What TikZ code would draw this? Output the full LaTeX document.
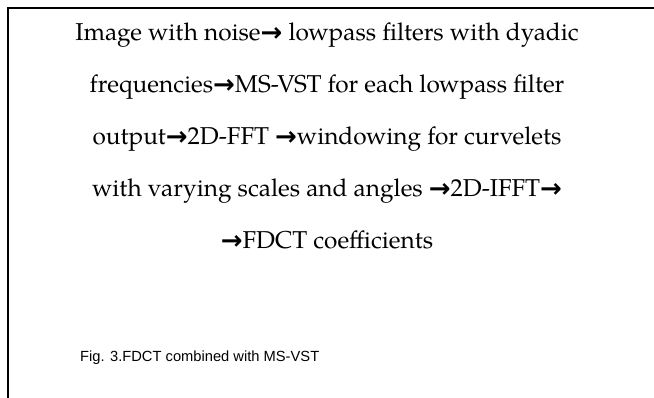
\documentclass[tikz,border=0pt]{standalone}
\usepackage{fontspec}
\setmainfont{TeX Gyre Pagella}
\newfontfamily\capfont{Liberation Sans}
\newfontfamily\arrfont{DejaVu Sans}
\newcommand{\arr}{{\arrfont\bfseries\fontsize{26}{28}\selectfont\raisebox{-0.5pt}{→}}}
\begin{document}
\begin{tikzpicture}[x=1pt,y=-1pt,
  frameline/.style={line width=2pt,black},
  bodytext/.style={anchor=base,inner sep=0pt,font=\fontsize{24.4}{28}\selectfont},
  captext/.style={anchor=base west,inner sep=0pt,font=\capfont\fontsize{14.7}{18}\selectfont}]
\useasboundingbox (0,0) rectangle (654,398);
\coordinate (tl) at (7.5,8.5);
\coordinate (tr) at (654,8.5);
\coordinate (bl) at (7.5,398);
\draw[frameline] (tr) -- (tl) -- (bl);
\node[bodytext] (l1) at (327,41) {Image with noise\arr{} lowpass filters with dyadic};
\node[bodytext] (l2) at (327,93) {frequencies\arr MS-VST for each lowpass filter};
\node[bodytext] (l3) at (327,145) {output\arr 2D-FFT \arr windowing for curvelets};
\node[bodytext] (l4) at (327,197) {with varying scales and angles \arr 2D-IFFT\arr};
\node[bodytext] (l5) at (327,249) {\arr FDCT coefficients};
\node[captext] (cap) at (80,362) {Fig. 3.FDCT combined with MS-VST};
\end{tikzpicture}
\end{document}
